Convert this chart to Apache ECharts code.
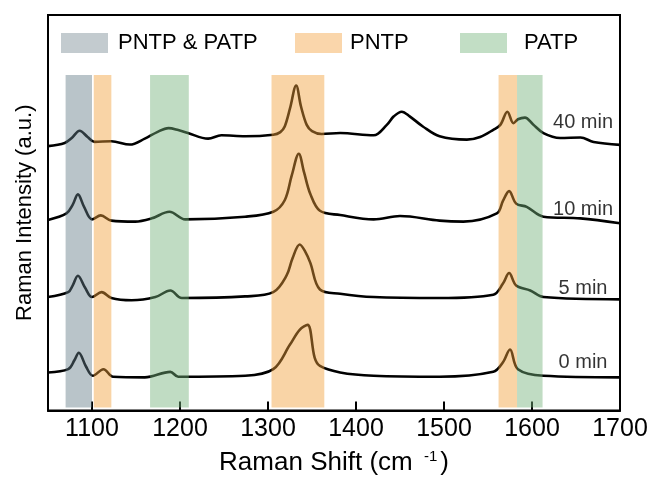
<!DOCTYPE html>
<html>
<head>
<meta charset="utf-8">
<script src="https://cdn.jsdelivr.net/npm/echarts@6/dist/echarts.min.js"></script>
<style>
  html, body { margin: 0; padding: 0; background: #fff; }
  #chart { width: 655px; height: 481px; }
</style>
</head>
<body>
<div id="chart"></div>
<script>
// x ticks
var xTicks = [1100, 1200, 1300, 1400, 1500, 1600, 1700];

// spectra: [raman shift, intensity (a.u., offset)]
var spec40 = [[1050,268.7],[1069,272],[1077,277],[1086,284.3],[1095,278],[1103,273],[1122,273.7],[1143,270.3],[1160,276.3],[1174,283],[1187,287],[1198,285],[1209,282],[1232,276.3],[1247,279.7],[1274,278.7],[1306,280.3],[1314,283],[1319,288.7],[1325,307],[1332,330.3],[1337.5,309],[1344,290.3],[1350,284],[1361,281],[1382,282],[1420,279.7],[1435,290.3],[1443,299],[1452,303.7],[1461,299],[1476,288.7],[1495,278.7],[1526,275.3],[1541,278],[1556,285.3],[1564,290.3],[1572,303.7],[1579,292],[1584,296],[1592,297.7],[1601,291],[1613,282],[1632,277],[1655,277.5],[1670,273],[1700,270]];
var spec10 = [[1050,193.7],[1071,200.3],[1078,209],[1084,219.7],[1091,207],[1100,194.3],[1110,198.3],[1122,193],[1149,192],[1168,195.3],[1188,202],[1206,194.3],[1274,197],[1306,202],[1319,213.7],[1327,239],[1335,261],[1341,242],[1348,220.3],[1359,203],[1382,198.7],[1420,194.3],[1450,197.7],[1495,193],[1522,192],[1560,200.3],[1567,213],[1574,223],[1582,210.3],[1594,207],[1613,197],[1655,195.3],[1700,190.3]];
var spec5 = [[1050,115.3],[1073,120.3],[1078,127],[1084,137],[1092,125],[1100,115.3],[1111,120.3],[1122,114.3],[1145,112],[1172,115.3],[1189,122],[1202,114.3],[1274,116],[1306,120.3],[1321,137],[1328,155],[1336,168.7],[1342,162],[1348,150.3],[1359,123],[1382,118.7],[1420,115.3],[1495,114.3],[1556,117.7],[1567,129],[1574,139.7],[1582,127],[1598,122],[1613,115.3],[1700,113]];
var spec0 = [[1050,38.7],[1073,42],[1080,51],[1085,58.7],[1093,45],[1101,35.3],[1113,42],[1124,34.3],[1160,33.7],[1189,39.3],[1198,34.3],[1274,35.3],[1306,42],[1325,67],[1336,82],[1345,87],[1353,53.7],[1359,45.3],[1382,38.7],[1420,35.3],[1495,34.3],[1556,39.3],[1567,49],[1575,62],[1584,42],[1613,35.3],[1700,33.7]];

// curve labels
var timeNames = ['40 min', '10 min', '5 min', '0 min'];
var timeX = [1658, 1658, 1658, 1658];
var timeY = [293, 204, 124, 49];

// shaded bands (raman shift ranges)
var bandNames = ['PNTP & PATP', 'PNTP', 'PATP'];
var bandsBoth = [[1070, 1100]];
var bandsPNTP = [[1102, 1122], [1304, 1364], [1562, 1583]];
var bandsPATP = [[1166, 1210], [1583, 1612]];

var bandFill = ['rgba(99,124,135,0.45)', 'rgba(242,159,57,0.45)', 'rgba(115,177,122,0.45)'];
var legendFill = ['#c3cbcf', '#fad6ab', '#c2dec5'];
var FONT = 'Liberation Sans, Arial, Helvetica, sans-serif';

function areas(list) {
    return list.map(function (b) {
        return [{ xAxis: b[0], yAxis: 3 }, { xAxis: b[1], yAxis: 341 }];
    });
}

function bandSeries(i, list) {
    return {
        name: bandNames[i],
        type: 'line',
        data: [],
        z: 5,
        itemStyle: { color: legendFill[i] },
        lineStyle: { color: legendFill[i] },
        markArea: {
            z: 5,
            silent: true,
            itemStyle: { color: bandFill[i] },
            data: areas(list)
        }
    };
}

function specSeries(name, data) {
    return {
        name: name,
        type: 'line',
        data: data,
        z: 2,
        smooth: 0.35,
        showSymbol: false,
        lineStyle: { color: '#000', width: 2.6 }
    };
}

function legendAt(i, left, gapText) {
    return {
        left: left,
        top: 32,
        padding: 0,
        selectedMode: false,
        itemWidth: 47,
        itemHeight: 20,
        icon: 'rect',
        data: [{ name: bandNames[i], itemStyle: { color: legendFill[i] } }],
        textStyle: { fontSize: 22, color: '#000', fontFamily: FONT, padding: [0, 0, 0, gapText] }
    };
}

var labelData = timeNames.map(function (n, i) {
    return { name: n, value: [timeX[i], timeY[i]] };
});

var chart = echarts.init(document.getElementById('chart'));
chart.setOption({
    animation: false,
    backgroundColor: '#fff',
    textStyle: { fontFamily: FONT },
    grid: {
        left: 48, right: 35, top: 15, bottom: 64,
        show: true, borderColor: '#000', borderWidth: 2, backgroundColor: 'transparent'
    },
    legend: [legendAt(0, 61, 5), legendAt(1, 295, 3), legendAt(2, 460, 12)],
    xAxis: {
        type: 'value',
        min: 1050,
        max: 1700,
        name: 'Raman Shift (cm {sup|-1})',
        nameLocation: 'middle',
        nameGap: 39,
        nameTextStyle: {
            fontSize: 26, color: '#000', fontFamily: FONT,
            rich: { sup: { fontSize: 15, color: '#000', fontFamily: FONT, verticalAlign: 'top', padding: [0, 3, 12, 4] } }
        },
        axisLine: { onZero: false, lineStyle: { color: '#000', width: 2 } },
        axisTick: { inside: true, length: 9, lineStyle: { color: '#000', width: 2 }, customValues: xTicks },
        axisLabel: {
            fontSize: 25, color: '#000', margin: 6, fontFamily: FONT, customValues: xTicks,
            formatter: function (v) { return String(v); }
        },
        splitLine: { show: false }
    },
    yAxis: {
        type: 'value',
        min: 0,
        max: 402,
        name: 'Raman Intensity (a.u.)',
        nameLocation: 'middle',
        nameGap: 12,
        nameTextStyle: { fontSize: 22, color: '#000', fontFamily: FONT },
        axisLine: { show: true, lineStyle: { color: '#000', width: 2 } },
        axisTick: { show: false },
        axisLabel: { show: false },
        splitLine: { show: false }
    },
    series: [
        specSeries('40 min', spec40),
        specSeries('10 min', spec10),
        specSeries('5 min', spec5),
        specSeries('0 min', spec0),
        bandSeries(0, bandsBoth),
        bandSeries(1, bandsPNTP),
        bandSeries(2, bandsPATP),
        {
            name: 'labels',
            type: 'scatter',
            data: labelData,
            symbolSize: 0,
            z: 6,
            label: {
                show: true,
                position: 'inside',
                formatter: '{b}',
                fontSize: 20,
                color: '#000',
                fontFamily: FONT
            }
        }
    ]
});
</script>
</body>
</html>
